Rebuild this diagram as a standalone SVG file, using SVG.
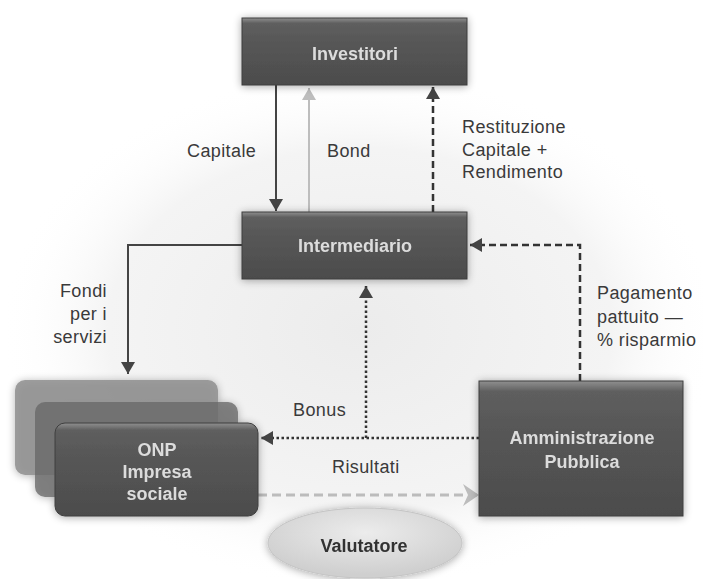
<svg xmlns="http://www.w3.org/2000/svg" width="704" height="579" viewBox="0 0 704 579">
  <defs>
    <radialGradient id="haze" cx="0.5" cy="0.5" r="0.5">
      <stop offset="0" stop-color="#ececec"/>
      <stop offset="0.7" stop-color="#f4f4f4"/>
      <stop offset="1" stop-color="#ffffff" stop-opacity="0"/>
    </radialGradient>
    <linearGradient id="boxFill" x1="0" y1="0" x2="0" y2="1">
      <stop offset="0" stop-color="#909090"/>
      <stop offset="0.08" stop-color="#5e5e5e"/>
      <stop offset="0.5" stop-color="#545454"/>
      <stop offset="1" stop-color="#4c4c4c"/>
    </linearGradient>
    <radialGradient id="ellFill" cx="0.5" cy="0.35" r="0.6">
      <stop offset="0" stop-color="#ececec"/>
      <stop offset="1" stop-color="#cfcfcf"/>
    </radialGradient>
    <filter id="shadow" x="-20%" y="-30%" width="140%" height="160%">
      <feGaussianBlur in="SourceAlpha" stdDeviation="4"/>
      <feOffset dx="0" dy="1" result="b"/>
      <feComponentTransfer><feFuncA type="linear" slope="0.35"/></feComponentTransfer>
      <feMerge><feMergeNode/><feMergeNode in="SourceGraphic"/></feMerge>
    </filter>
    <marker id="arrDark" viewBox="0 0 12 16" refX="12" refY="8" markerWidth="12" markerHeight="16" markerUnits="userSpaceOnUse" orient="auto">
      <path d="M0,1 L12,8 L0,15 Z" fill="#444"/>
    </marker>
    <marker id="arrLight" viewBox="0 0 12 16" refX="12" refY="8" markerWidth="12" markerHeight="16" markerUnits="userSpaceOnUse" orient="auto">
      <path d="M0,1 L12,8 L0,15 Z" fill="#bdbdbd"/>
    </marker>
    <marker id="arrChevron" viewBox="0 0 16 22" refX="16" refY="11" markerWidth="16" markerHeight="22" markerUnits="userSpaceOnUse" orient="auto">
      <path d="M0,0 L16,11 L0,22 L5,11 Z" fill="#bcbcbc"/>
    </marker>
  </defs>
  <style>
    .box { fill: url(#boxFill); stroke: #3e3e3e; stroke-width: 1; }
    .boxText { font-family: "Liberation Sans", Arial, sans-serif; font-size: 18px; font-weight: bold; fill: #dcdcdc; text-anchor: middle; }
    .label { font-family: "Liberation Sans", Arial, sans-serif; font-size: 18px; fill: #3a3a3a; letter-spacing: 0.4px; }
    .solid { fill: none; stroke: #444; stroke-width: 2; }
    .light { fill: none; stroke: #bdbdbd; stroke-width: 2; }
    .dashed { fill: none; stroke: #333; stroke-width: 2.5; stroke-dasharray: 7 4; }
    .dotted { fill: none; stroke: #333; stroke-width: 2.5; stroke-dasharray: 2.5 2.5; }
    .lightDash { fill: none; stroke: #bcbcbc; stroke-width: 3; stroke-dasharray: 9 5; }
  </style>

  <rect width="704" height="579" fill="#ffffff"/>
  <ellipse cx="360" cy="330" rx="360" ry="260" fill="url(#haze)"/>

  <!-- connectors -->
  <g id="connectors">
    <line class="solid" x1="276" y1="85" x2="276" y2="211" marker-end="url(#arrDark)"/>
    <line class="light" x1="309" y1="212" x2="309" y2="88" marker-end="url(#arrLight)"/>
    <line class="dashed" x1="433" y1="212" x2="433" y2="87" marker-end="url(#arrDark)"/>
    <polyline class="solid" points="242,245 128,245 128,374" marker-end="url(#arrDark)"/>
    <polyline class="dashed" points="580,381 580,245 470,245" marker-end="url(#arrDark)"/>
    <line class="dotted" x1="366" y1="438" x2="366" y2="286" marker-end="url(#arrDark)"/>
    <line class="dotted" x1="479" y1="438" x2="261" y2="438" marker-end="url(#arrDark)"/>
    <line class="lightDash" x1="258" y1="495" x2="479" y2="495" marker-end="url(#arrChevron)"/>
  </g>

  <!-- connector labels -->
  <g id="labels">
    <text class="label" x="187" y="157">Capitale</text>
    <text class="label" x="327" y="157">Bond</text>
    <text class="label" x="462" y="133">Restituzione</text>
    <text class="label" x="462" y="156">Capitale +</text>
    <text class="label" x="462" y="178">Rendimento</text>
    <text class="label" x="107" y="297" text-anchor="end">Fondi</text>
    <text class="label" x="107" y="320" text-anchor="end">per i</text>
    <text class="label" x="107" y="343" text-anchor="end">servizi</text>
    <text class="label" x="597" y="299">Pagamento</text>
    <text class="label" x="597" y="323">pattuito —</text>
    <text class="label" x="597" y="346">% risparmio</text>
    <text class="label" x="293" y="416">Bonus</text>
    <text class="label" x="332" y="473">Risultati</text>
  </g>

  <g id="investitori" filter="url(#shadow)">
    <rect class="box" x="242" y="18" width="225" height="67"/>
    <text class="boxText" x="355" y="60">Investitori</text>
  </g>

  <g id="intermediario" filter="url(#shadow)">
    <rect class="box" x="242" y="212" width="225" height="67"/>
    <text class="boxText" x="355" y="252">Intermediario</text>
  </g>

  <g id="onp" filter="url(#shadow)">
    <rect x="15" y="380" width="203" height="95" rx="10" fill="#8e8e8e" opacity="0.85"/>
    <rect x="35" y="402" width="203" height="95" rx="10" fill="#6a6a6a" opacity="0.8"/>
    <rect class="box" x="55" y="423" width="203" height="93" rx="10"/>
    <text class="boxText" x="157" y="456">ONP</text>
    <text class="boxText" x="157" y="478">Impresa</text>
    <text class="boxText" x="157" y="500">sociale</text>
  </g>

  <g id="amministrazione" filter="url(#shadow)">
    <rect class="box" x="479" y="381" width="204" height="135"/>
    <text class="boxText" x="582" y="444">Amministrazione</text>
    <text class="boxText" x="582" y="468">Pubblica</text>
  </g>

  <g id="valutatore" filter="url(#shadow)">
    <ellipse cx="365" cy="543" rx="97" ry="35" fill="url(#ellFill)" stroke="#c4c4c4" stroke-width="1"/>
    <text x="364" y="552" text-anchor="middle" font-family="Liberation Sans, Arial, sans-serif" font-size="18" font-weight="bold" fill="#333">Valutatore</text>
  </g>
</svg>
